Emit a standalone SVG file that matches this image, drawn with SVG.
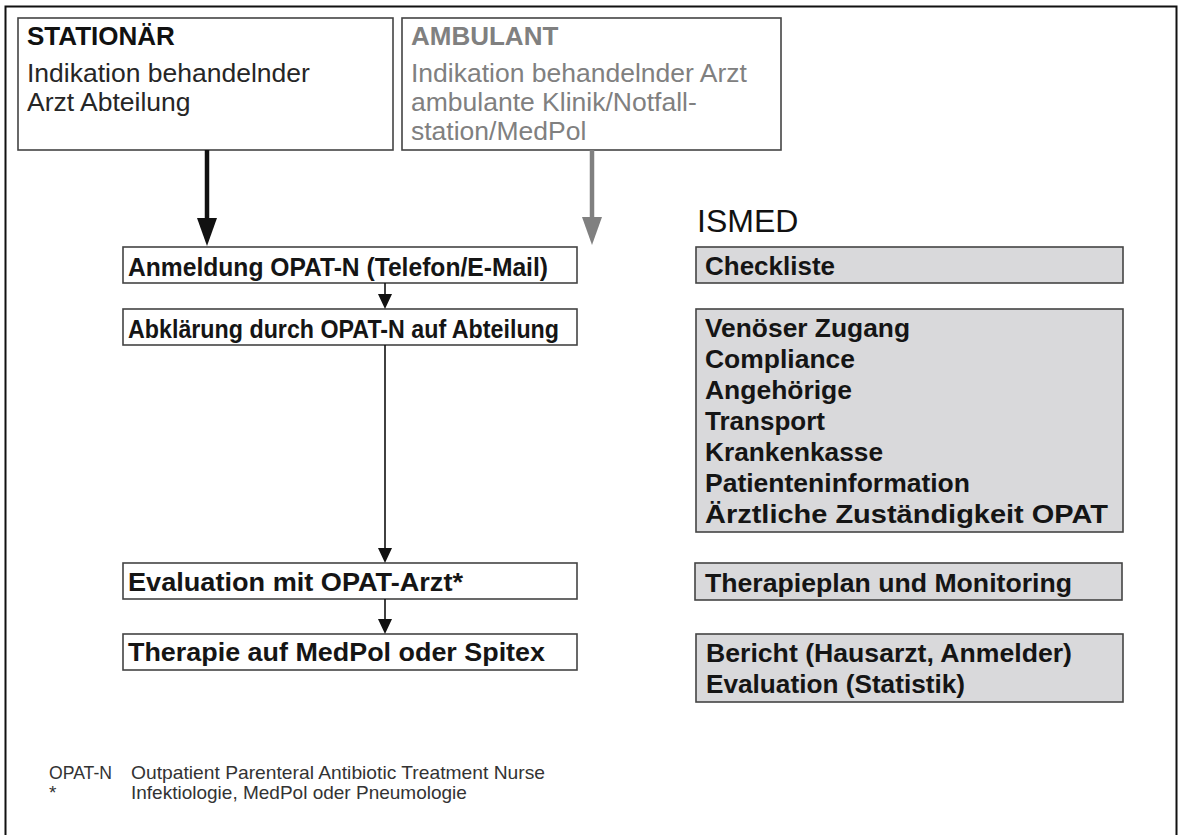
<svg xmlns="http://www.w3.org/2000/svg" width="1178" height="835" viewBox="0 0 1178 835">
<defs>
<style>
.frame{fill:#fff;stroke:#111;stroke-width:2}
.box{fill:#fff;stroke:#444;stroke-width:1.6}
.gbox{fill:#d9d9db;stroke:#444;stroke-width:1.6}
.b{font-family:"Liberation Sans",Arial,sans-serif;font-weight:bold;font-size:26px;fill:#151515}
.bl{font-family:"Liberation Sans",Arial,sans-serif;font-weight:bold;font-size:25px;fill:#151515}
.h{font-family:"Liberation Sans",Arial,sans-serif;font-weight:bold;font-size:26px;fill:#111}
.r{font-family:"Liberation Sans",Arial,sans-serif;font-size:26.5px;fill:#262626}
.gr{fill:#808080}
.ism{font-family:"Liberation Sans",Arial,sans-serif;font-size:32px;fill:#111}
.f{font-family:"Liberation Sans",Arial,sans-serif;font-size:19px;fill:#333}
.thin{stroke:#111;stroke-width:1.6;fill:none}
</style>
<marker id="ah" markerUnits="userSpaceOnUse" markerWidth="15" markerHeight="14" refX="0" refY="7" orient="auto"><path d="M0,0 L15,7 L0,14 z" fill="#111"/></marker>
<marker id="bigk" markerUnits="userSpaceOnUse" markerWidth="28" markerHeight="20" refX="0" refY="10" orient="auto"><path d="M0,0 L28,10 L0,20 z" fill="#111"/></marker>
<marker id="bigg" markerUnits="userSpaceOnUse" markerWidth="28" markerHeight="20" refX="0" refY="10" orient="auto"><path d="M0,0 L28,10 L0,20 z" fill="#808080"/></marker>
</defs>
<rect class="frame" x="5.5" y="6.5" width="1171" height="840"/>

<g id="stationaer">
<rect class="box" x="18" y="18" width="375" height="132"/>
<text class="h" x="27" y="45">STATIONÄR</text>
<text class="r" x="27" y="82">Indikation behandelnder</text>
<text class="r" x="27" y="111">Arzt Abteilung</text>
</g>

<g id="ambulant">
<rect class="box" x="402" y="18" width="379" height="132"/>
<text class="h gr" x="411" y="45">AMBULANT</text>
<text class="r gr" x="411" y="82">Indikation behandelnder Arzt</text>
<text class="r gr" x="411" y="111">ambulante Klinik/Notfall-</text>
<text class="r gr" x="411" y="140">station/MedPol</text>
</g>

<g id="ismed-title">
<text class="ism" x="697" y="232">ISMED</text>
</g>

<g id="anmeldung">
<rect class="box" x="123" y="247" width="454" height="36"/>
<text class="bl" x="128" y="276" textLength="420" lengthAdjust="spacingAndGlyphs">Anmeldung OPAT-N (Telefon/E-Mail)</text>
</g>

<g id="abklaerung">
<rect class="box" x="123" y="309" width="454" height="36"/>
<text class="bl" x="128" y="338" textLength="431" lengthAdjust="spacingAndGlyphs">Abklärung durch OPAT-N auf Abteilung</text>
</g>

<g id="evaluation">
<rect class="box" x="123" y="563" width="454" height="36"/>
<text class="b" x="128" y="591" textLength="335" lengthAdjust="spacingAndGlyphs">Evaluation mit OPAT-Arzt*</text>
</g>

<g id="therapie">
<rect class="box" x="123" y="634" width="454" height="36"/>
<text class="b" x="128" y="661" textLength="417" lengthAdjust="spacingAndGlyphs">Therapie auf MedPol oder Spitex</text>
</g>

<g id="checkliste">
<rect class="gbox" x="696" y="247" width="427" height="36"/>
<text class="b" x="705" y="275" textLength="130" lengthAdjust="spacingAndGlyphs">Checkliste</text>
</g>

<g id="abklaerung-details">
<rect class="gbox" x="696" y="309" width="427" height="223"/>
<text class="b" x="705" y="337" textLength="205" lengthAdjust="spacingAndGlyphs">Venöser Zugang</text>
<text class="b" x="705" y="368" textLength="150" lengthAdjust="spacingAndGlyphs">Compliance</text>
<text class="b" x="705" y="399" textLength="147" lengthAdjust="spacingAndGlyphs">Angehörige</text>
<text class="b" x="705" y="430" textLength="120" lengthAdjust="spacingAndGlyphs">Transport</text>
<text class="b" x="705" y="461" textLength="178" lengthAdjust="spacingAndGlyphs">Krankenkasse</text>
<text class="b" x="705" y="492" textLength="265" lengthAdjust="spacingAndGlyphs">Patienteninformation</text>
<text class="b" x="705" y="523" textLength="403" lengthAdjust="spacingAndGlyphs">Ärztliche Zuständigkeit OPAT</text>
</g>

<g id="therapieplan">
<rect class="gbox" x="695" y="563" width="427" height="37"/>
<text class="b" x="705" y="592" textLength="367" lengthAdjust="spacingAndGlyphs">Therapieplan und Monitoring</text>
</g>

<g id="bericht">
<rect class="gbox" x="696" y="634" width="427" height="68"/>
<text class="b" x="706" y="662" textLength="366" lengthAdjust="spacingAndGlyphs">Bericht (Hausarzt, Anmelder)</text>
<text class="b" x="706" y="693" textLength="259" lengthAdjust="spacingAndGlyphs">Evaluation (Statistik)</text>
</g>

<g id="connectors">
<line x1="207" y1="150" x2="207" y2="218" stroke="#111" stroke-width="4.5" marker-end="url(#bigk)"/>
<line x1="592" y1="150" x2="592" y2="217" stroke="#808080" stroke-width="4.5" marker-end="url(#bigg)"/>
<line class="thin" x1="385" y1="283" x2="385" y2="294" marker-end="url(#ah)"/>
<line class="thin" x1="385" y1="345" x2="385" y2="548" marker-end="url(#ah)"/>
<line class="thin" x1="385" y1="599" x2="385" y2="619" marker-end="url(#ah)"/>
</g>

<g id="legend">
<text class="f" x="49" y="779" textLength="63" lengthAdjust="spacingAndGlyphs">OPAT-N</text>
<text class="f" x="131" y="779" textLength="414" lengthAdjust="spacingAndGlyphs">Outpatient Parenteral Antibiotic Treatment Nurse</text>
<text class="f" x="49" y="799">*</text>
<text class="f" x="131" y="799">Infektiologie, MedPol oder Pneumologie</text>
</g>
</svg>
